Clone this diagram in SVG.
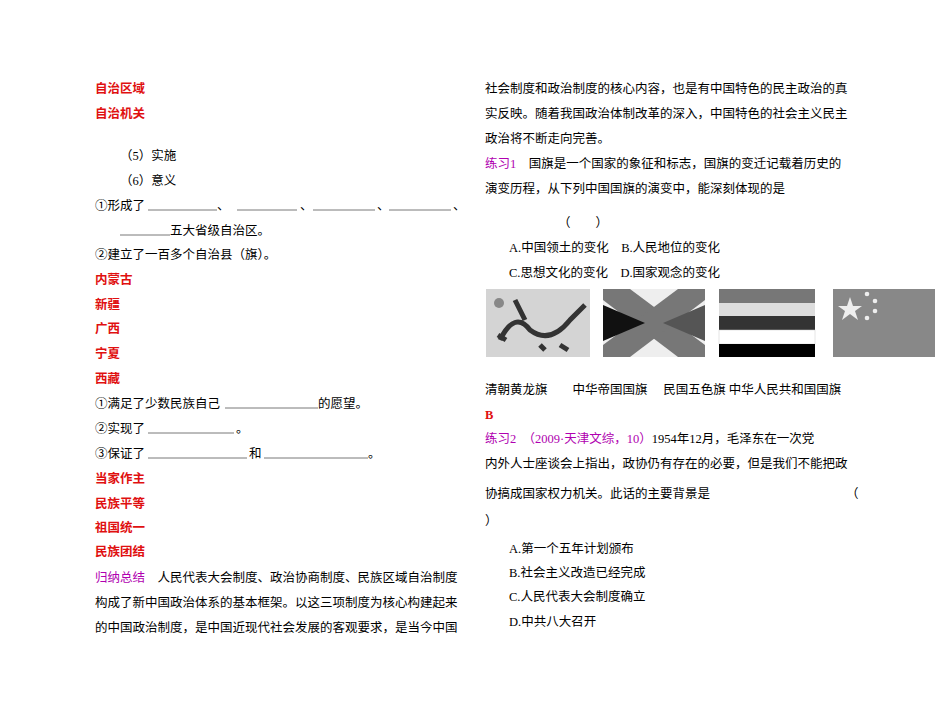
<svg xmlns="http://www.w3.org/2000/svg" width="950" height="722" viewBox="0 0 950 722">
<style>
text{font-family:"Liberation Serif","Noto Sans CJK SC",serif;font-size:12.5px;fill:#000}
.r{fill:#e01010;font-weight:bold}
.m{fill:#b000b0}
.u{stroke:#555;stroke-width:0.8}
</style>
<rect width="950" height="722" fill="#fff"/>
<g id="left">
<text class="r" x="95" y="93">自治区域</text>
<text class="r" x="95" y="118">自治机关</text>
<text x="120" y="160">（5）实施</text>
<text x="120" y="185">（6）意义</text>
<text x="95" y="210">①形成了</text>
<text x="217" y="210">、</text><text x="300" y="210">、</text><text x="377" y="210">、</text><text x="453" y="210">、</text>
<g class="u"><line x1="148" y1="210" x2="217" y2="210"/><line x1="237" y1="210" x2="297" y2="210"/><line x1="313" y1="210" x2="375" y2="210"/><line x1="389" y1="210" x2="451" y2="210"/><line x1="120" y1="235" x2="170" y2="235"/><line x1="225" y1="408" x2="318" y2="408"/><line x1="148" y1="433" x2="234" y2="433"/><line x1="148" y1="458" x2="247" y2="458"/><line x1="264" y1="458" x2="368" y2="458"/></g>
<text x="170" y="235">五大省级自治区。</text>
<text x="95" y="259">②建立了一百多个自治县（旗）。</text>
<text class="r" x="95" y="284">内蒙古</text>
<text class="r" x="95" y="309">新疆</text>
<text class="r" x="95" y="333">广西</text>
<text class="r" x="95" y="358">宁夏</text>
<text class="r" x="95" y="383">西藏</text>
<text x="95" y="408">①满足了少数民族自己</text><text x="318" y="408">的愿望。</text>
<text x="95" y="433">②实现了</text><text x="236" y="433">。</text>
<text x="95" y="458">③保证了</text><text x="249" y="458">和</text><text x="368" y="458">。</text>
<text class="r" x="95" y="483">当家作主</text>
<text class="r" x="95" y="508">民族平等</text>
<text class="r" x="95" y="532">祖国统一</text>
<text class="r" x="95" y="556">民族团结</text>
<text x="95" y="582"><tspan class="m">归纳总结</tspan>　人民代表大会制度、政治协商制度、民族区域自治制度</text>
<text x="95" y="607">构成了新中国政治体系的基本框架。以这三项制度为核心构建起来</text>
<text x="95" y="632">的中国政治制度，是中国近现代社会发展的客观要求，是当今中国</text>
</g>
<g id="right">
<text x="485" y="93">社会制度和政治制度的核心内容，也是有中国特色的民主政治的真</text>
<text x="485" y="118">实反映。随着我国政治体制改革的深入，中国特色的社会主义民主</text>
<text x="485" y="143">政治将不断走向完善。</text>
<text x="485" y="168"><tspan class="m">练习1</tspan>　国旗是一个国家的象征和标志，国旗的变迁记载着历史的</text>
<text x="485" y="193">演变历程，从下列中国国旗的演变中，能深刻体现的是</text>
<text x="558" y="227">（　　）</text>
<text x="509" y="252">A.中国领土的变化　B.人民地位的变化</text>
<text x="509" y="277">C.思想文化的变化　D.国家观念的变化</text>
<g id="flag1"><rect x="486" y="289" width="104" height="68" fill="#d4d4d4"/><circle cx="499" cy="303" r="5" fill="#888"/><path d="M500 340 q15 -30 30 -10 q20 15 40 -10 q10 -10 15 -15 M515 300 q5 10 10 20 M498 335 l8 5 M540 345 l5 5 M560 345 l8 5" stroke="#333" stroke-width="5" fill="none"/></g>
<g id="flag2"><rect x="603" y="289" width="102" height="68" fill="#eee"/><polygon points="603,289 630,289 705,345 705,357 678,357 603,300" fill="#777"/><polygon points="678,289 705,289 705,300 630,357 603,357 603,345" fill="#777"/><polygon points="603,305 645,323 603,341" fill="#111"/><polygon points="705,305 663,323 705,341" fill="#555"/></g>
<g id="flag3"><rect x="719" y="289" width="96" height="14" fill="#777"/><rect x="719" y="303" width="96" height="13" fill="#ddd"/><rect x="719" y="316" width="96" height="14" fill="#333"/><rect x="719" y="330" width="96" height="14" fill="#fff" stroke="#ccc" stroke-width="0.5"/><rect x="719" y="344" width="96" height="13" fill="#000"/></g>
<g id="flag4"><rect x="833" y="289" width="102" height="68" fill="#888"/><polygon points="850,297 853,306 862,306 855,311 858,320 850,314 842,320 845,311 838,306 847,306" fill="#eee"/><circle cx="867" cy="294" r="2.3" fill="#eee"/><circle cx="875" cy="301" r="2.3" fill="#eee"/><circle cx="875" cy="311" r="2.3" fill="#eee"/><circle cx="867" cy="318" r="2.3" fill="#eee"/></g>
<text x="485" y="394">清朝黄龙旗　　中华帝国国旗　 民国五色旗 中华人民共和国国旗</text>
<text class="r" x="485" y="419">B</text>
<text x="485" y="443"><tspan class="m">练习2</tspan>　<tspan class="m">（2009·天津文综，10）</tspan>1954年12月，毛泽东在一次党</text>
<text x="485" y="468">内外人士座谈会上指出，政协仍有存在的必要，但是我们不能把政</text>
<text x="485" y="498">协搞成国家权力机关。此话的主要背景是</text><text x="846" y="498">（</text>
<text x="485" y="525">）</text>
<text x="509" y="553">A.第一个五年计划颁布</text>
<text x="509" y="577">B.社会主义改造已经完成</text>
<text x="509" y="601">C.人民代表大会制度确立</text>
<text x="509" y="626">D.中共八大召开</text>
</g>
</svg>
